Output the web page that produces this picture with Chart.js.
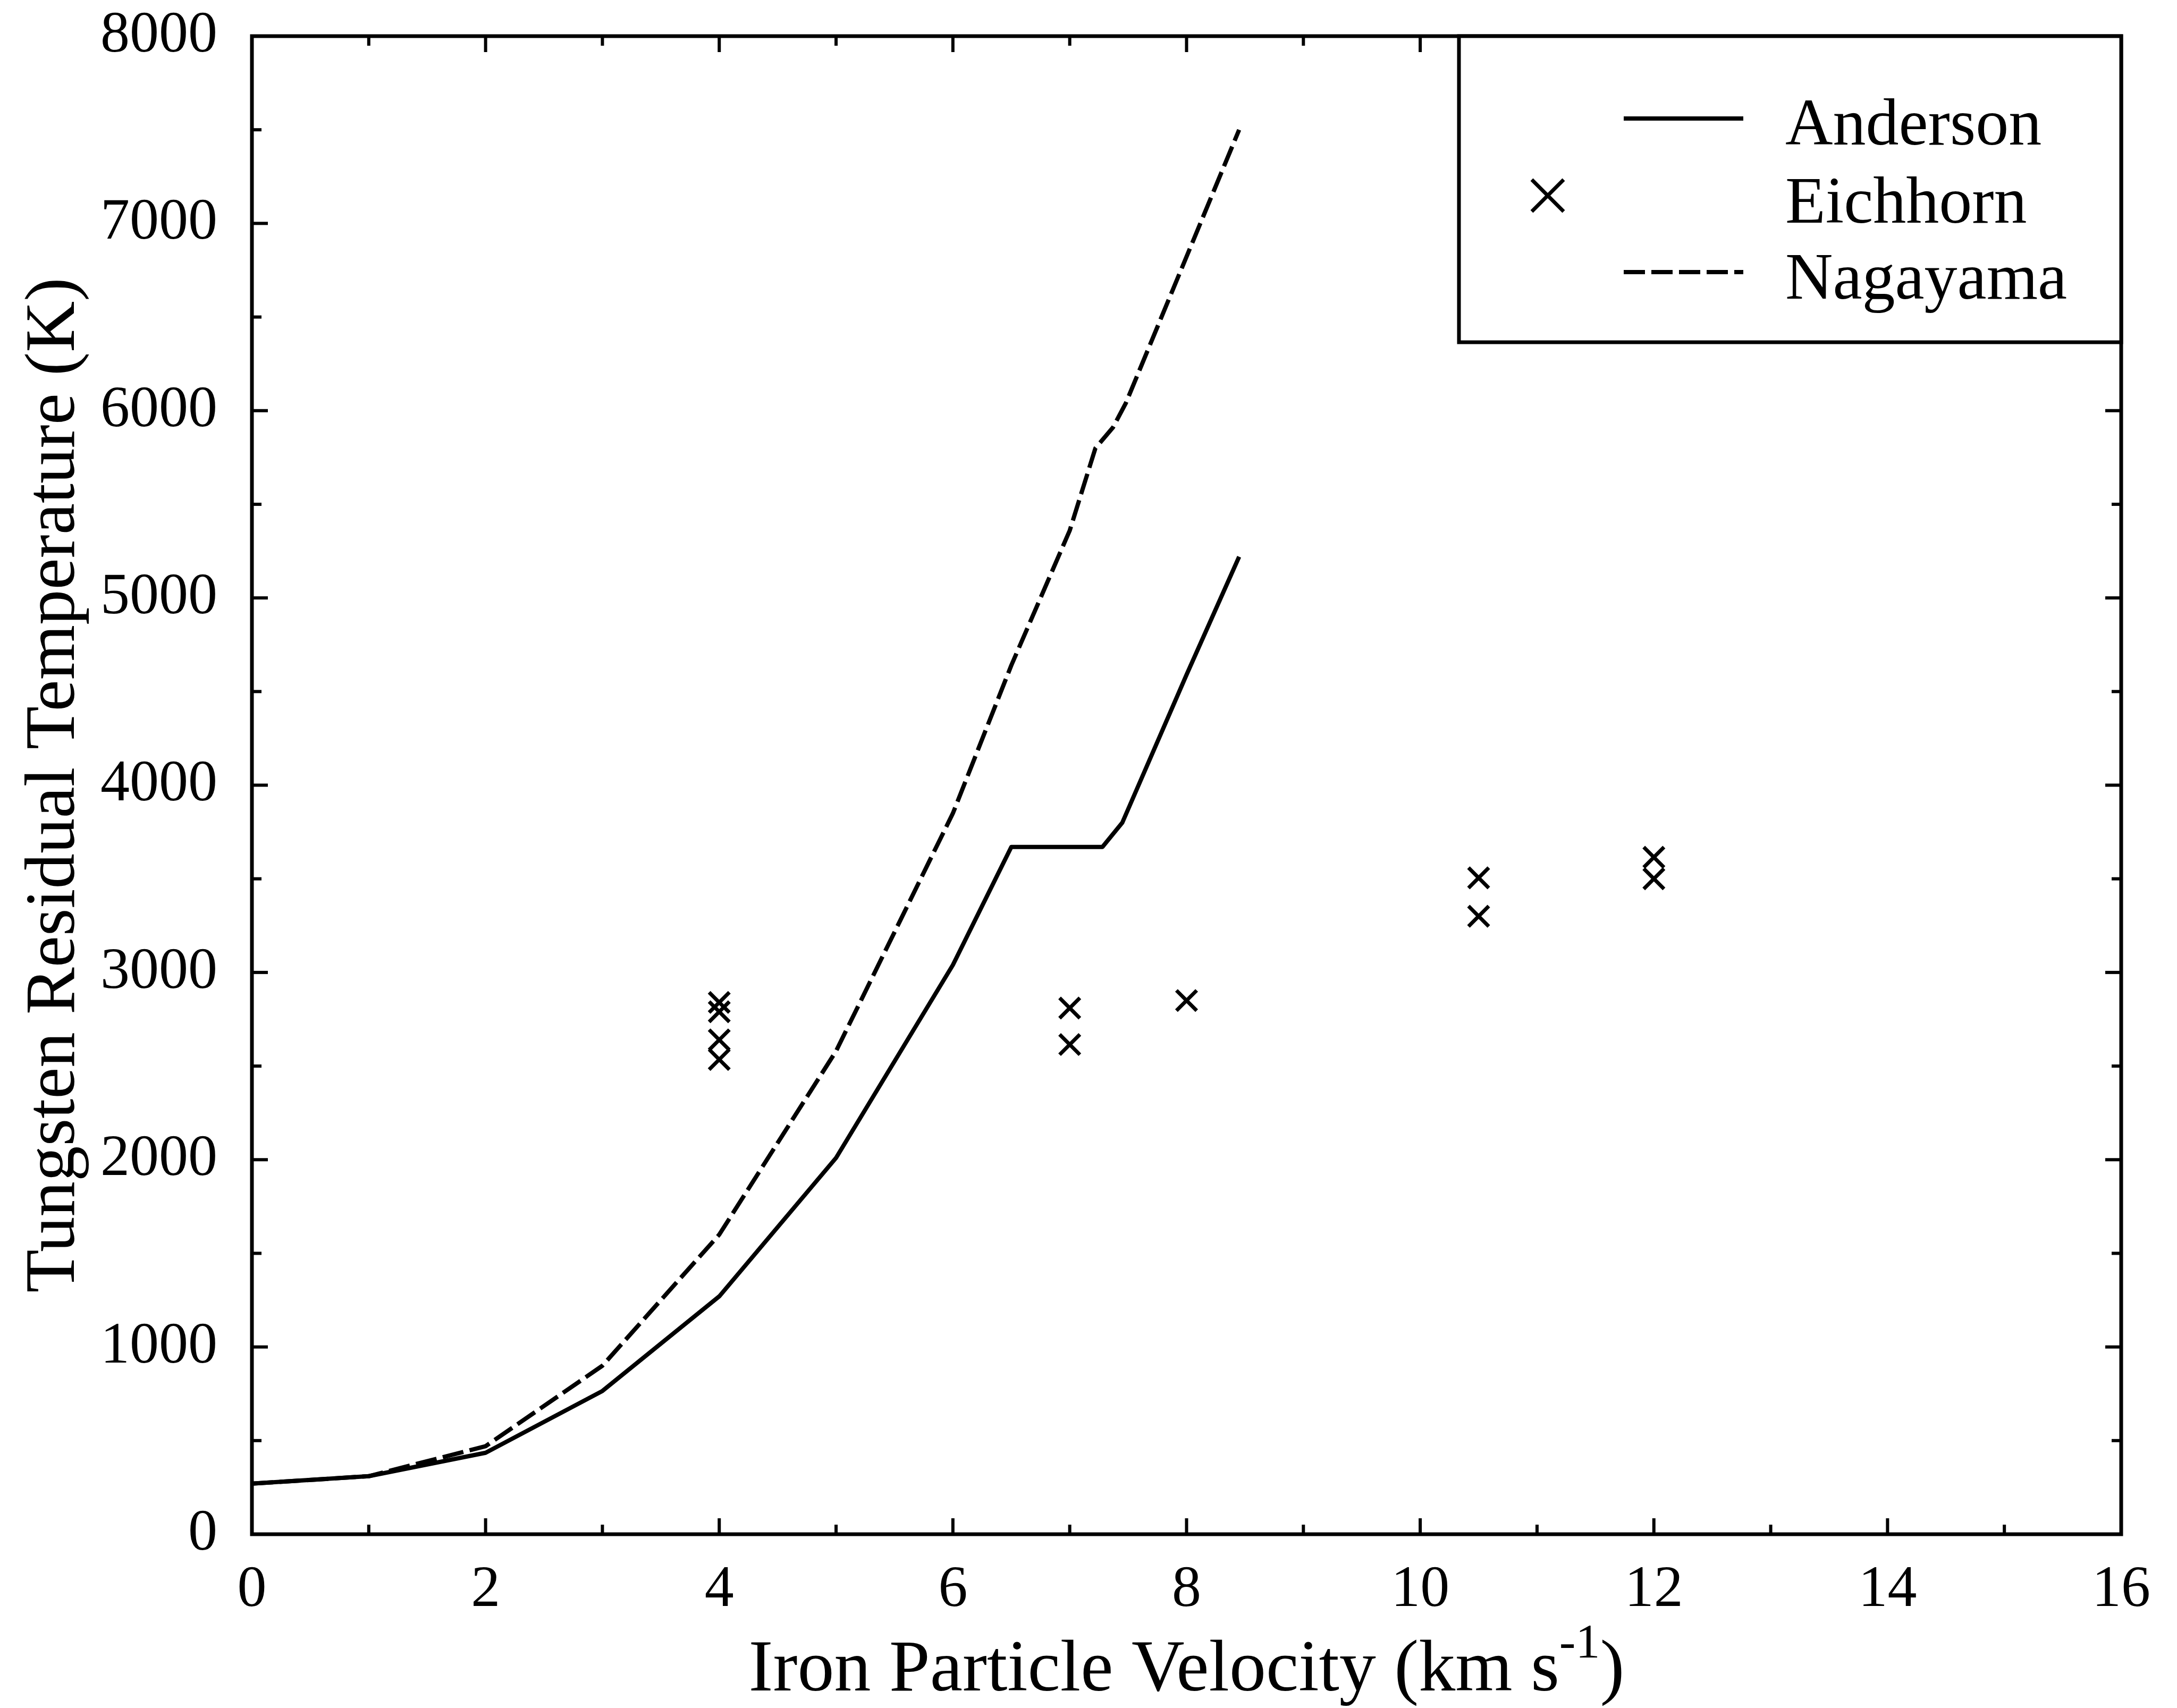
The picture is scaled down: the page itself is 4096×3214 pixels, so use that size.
<!DOCTYPE html>
<html>
<head>
<meta charset="utf-8">
<script src="https://cdn.jsdelivr.net/npm/chart.js@4.4.1/dist/chart.umd.min.js"></script>
<style>
  html, body { margin: 0; padding: 0; background: #fff; }
</style>
</head>
<body>
<canvas id="chart" width="4096" height="3214"></canvas>
<script>
/* ── data ───────────────────────────────────── */
const X_TICKS = [0, 2, 4, 6, 8, 10, 12, 14, 16];
const Y_TICKS = [0, 1000, 2000, 3000, 4000, 5000, 6000, 7000, 8000];

const andersonVel  = [0, 1, 2, 3, 4, 5, 6, 6.5, 7.28, 7.45, 8, 8.45];
const andersonTemp = [270, 310, 435, 765, 1270, 2010, 3040, 3670, 3670, 3800, 4590, 5220];

const eichhornVel  = [4, 4, 4, 4, 7, 7, 8, 10.5, 10.5, 12, 12];
const eichhornTemp = [2840, 2790, 2640, 2535, 2810, 2615, 2850, 3505, 3300, 3615, 3500];

const nagayamaVel  = [0, 1, 2, 3, 4, 5, 6, 6.5, 7, 7.22, 7.37, 7.48, 8.45];
const nagayamaTemp = [270, 310, 470, 900, 1600, 2580, 3850, 4640, 5360, 5800, 5910, 6040, 7500];

const SERIES_NAMES = ['Anderson', 'Eichhorn', 'Nagayama'];

/* ── look ───────────────────────────────────── */
const INK   = '#000';
const FONT  = '"Liberation Serif", "Times New Roman", serif';
const DASH  = [40, 12];

const pts = (xs, ys) => xs.map((v, i) => ({ x: v, y: ys[i] }));

/* frame + inward ticks on all four sides */
const frameTicks = {
  id: 'frameTicks',
  afterDatasetsDraw(chart) {
    const { ctx, chartArea: a, scales: { x, y } } = chart;
    const MAJOR = 30, MINOR = 18;
    ctx.save();
    ctx.strokeStyle = INK;
    ctx.lineWidth = 6;
    const seg = (x1, y1, x2, y2) => { ctx.beginPath(); ctx.moveTo(x1, y1); ctx.lineTo(x2, y2); ctx.stroke(); };

    const xv = x.ticks.map(t => t.value);
    xv.forEach((v, i) => {
      const px = x.getPixelForValue(v);
      seg(px, a.bottom, px, a.bottom - MAJOR);
      seg(px, a.top, px, a.top + MAJOR);
      if (i < xv.length - 1) {
        const pm = x.getPixelForValue((v + xv[i + 1]) / 2);
        seg(pm, a.bottom, pm, a.bottom - MINOR);
        seg(pm, a.top, pm, a.top + MINOR);
      }
    });

    const yv = y.ticks.map(t => t.value);
    yv.forEach((v, i) => {
      const py = y.getPixelForValue(v);
      seg(a.left, py, a.left + MAJOR, py);
      seg(a.right, py, a.right - MAJOR, py);
      if (i < yv.length - 1) {
        const pm = y.getPixelForValue((v + yv[i + 1]) / 2);
        seg(a.left, pm, a.left + MINOR, pm);
        seg(a.right, pm, a.right - MINOR, pm);
      }
    });

    ctx.lineWidth = 7;
    ctx.strokeRect(a.left, a.top, a.right - a.left, a.bottom - a.top);
    ctx.restore();
  }
};

/* boxed legend in the top-right corner */
const boxLegend = {
  id: 'boxLegend',
  afterDraw(chart) {
    const { ctx, chartArea: a } = chart;
    const ds = chart.data.datasets;
    const boxL = 2745, boxB = 644;
    ctx.save();
    ctx.strokeStyle = INK;
    ctx.fillStyle = '#fff';
    ctx.fillRect(boxL, a.top, a.right - boxL, boxB - a.top);
    ctx.lineWidth = 7;
    ctx.strokeRect(boxL, a.top, a.right - boxL, boxB - a.top);

    const rows = [223, 368, 512];
    const baselines = [272, 419, 562];
    ctx.font = '124px ' + FONT;
    ctx.fillStyle = INK;
    ctx.textBaseline = 'alphabetic';
    ds.forEach((d, i) => {
      const yy = rows[i];
      if (d.showLine) {
        ctx.lineWidth = d.borderWidth;
        ctx.setLineDash(d.borderDash || []);
        ctx.beginPath(); ctx.moveTo(3055, yy); ctx.lineTo(3280, yy); ctx.stroke();
        ctx.setLineDash([]);
      } else {
        const h = 30;
        ctx.lineWidth = 7;
        ctx.beginPath();
        ctx.moveTo(2912 - h, yy - h); ctx.lineTo(2912 + h, yy + h);
        ctx.moveTo(2912 + h, yy - h); ctx.lineTo(2912 - h, yy + h);
        ctx.stroke();
      }
      ctx.fillText(d.label, 3359, baselines[i]);
    });
    ctx.restore();
  }
};

/* x title with superscript */
const xTitle = {
  id: 'xTitle',
  afterDraw(chart) {
    const { ctx, chartArea: a } = chart;
    const main = 'Iron Particle Velocity (km s', sup = '-1', tail = ')';
    const big = '138px ' + FONT, small = '92px ' + FONT;
    ctx.save();
    ctx.fillStyle = INK;
    ctx.textBaseline = 'alphabetic';
    ctx.font = big;
    const w1 = ctx.measureText(main).width, w3 = ctx.measureText(tail).width;
    ctx.font = small;
    const w2 = ctx.measureText(sup).width;
    let x0 = (a.left + a.right) / 2 - (w1 + w2 + w3) / 2;
    const base = 3181;
    ctx.font = big;   ctx.fillText(main, x0, base); x0 += w1;
    ctx.font = small; ctx.fillText(sup, x0, base - 62); x0 += w2;
    ctx.font = big;   ctx.fillText(tail, x0, base);
    ctx.restore();
  }
};

const whiteBg = {
  id: 'whiteBg',
  beforeDraw(chart) {
    const { ctx, width, height } = chart;
    ctx.save(); ctx.fillStyle = '#fff'; ctx.fillRect(0, 0, width, height); ctx.restore();
  }
};

new Chart(document.getElementById('chart'), {
  type: 'scatter',
  data: {
    datasets: [
      {
        label: SERIES_NAMES[0],
        data: pts(andersonVel, andersonTemp),
        showLine: true,
        borderColor: INK, borderWidth: 8,
        borderJoinStyle: 'round',
        pointRadius: 0, tension: 0, fill: false,
      },
      {
        label: SERIES_NAMES[1],
        data: pts(eichhornVel, eichhornTemp),
        showLine: false,
        pointStyle: 'crossRot', pointRadius: 27,
        borderColor: INK, backgroundColor: INK, pointBorderWidth: 7,
      },
      {
        label: SERIES_NAMES[2],
        data: pts(nagayamaVel, nagayamaTemp),
        showLine: true,
        borderColor: INK, borderWidth: 8, borderDash: DASH,
        borderJoinStyle: 'round',
        pointRadius: 0, tension: 0, fill: false,
      },
    ],
  },
  options: {
    responsive: false, animation: false, events: [],
    layout: { padding: { top: 68, right: 105, left: 0, bottom: 0 } },
    plugins: { legend: { display: false }, tooltip: { enabled: false } },
    scales: {
      x: {
        type: 'linear', min: X_TICKS[0], max: X_TICKS[X_TICKS.length - 1],
        afterFit: s => { s.height = 327; s.paddingLeft = 0; s.paddingRight = 0; },
        afterBuildTicks: s => { s.ticks = X_TICKS.map(v => ({ value: v })); },
        grid: { display: false, drawTicks: false },
        border: { display: false },
        ticks: { color: INK, padding: 40, font: { family: FONT, size: 110 }, maxRotation: 0,
                 callback: v => String(v) },
      },
      y: {
        type: 'linear', min: Y_TICKS[0], max: Y_TICKS[Y_TICKS.length - 1],
        afterFit: s => { s.width = 474; s.paddingTop = 0; s.paddingBottom = 0; },
        afterBuildTicks: s => { s.ticks = Y_TICKS.map(v => ({ value: v })); },
        grid: { display: false, drawTicks: false },
        border: { display: false },
        ticks: { color: INK, padding: 65, font: { family: FONT, size: 110 },
                 callback: v => String(v) },
        title: {
          display: true, text: 'Tungsten Residual Temperature (K)', color: INK,
          font: { family: FONT, size: 133 }, padding: { top: 24, bottom: 0 },
        },
      },
    },
  },
  plugins: [whiteBg, frameTicks, boxLegend, xTitle],
});
</script>
</body>
</html>
